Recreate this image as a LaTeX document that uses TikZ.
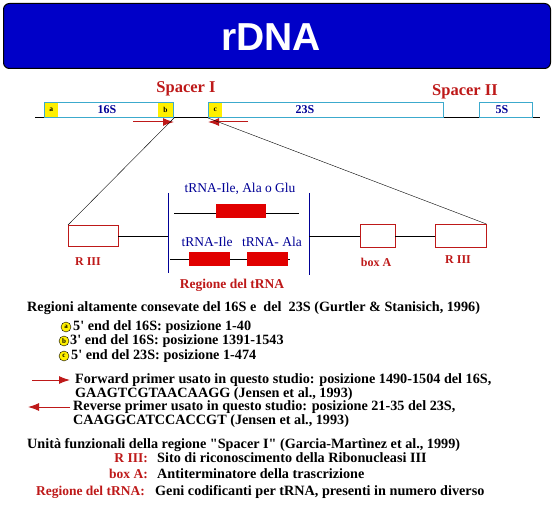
\documentclass[tikz,border=0pt]{standalone}
\usepackage{fontspec}
\setmainfont{Liberation Serif}[Ligatures=TeXOff]
\newfontfamily\titlefont{Liberation Sans}
\usetikzlibrary{arrows.meta,positioning}
\definecolor{bannerblue}{RGB}{0,0,200}
\definecolor{labelred}{RGB}{190,25,25}
\definecolor{boxred}{RGB}{225,0,0}
\definecolor{genecyan}{RGB}{60,170,205}
\definecolor{navy}{RGB}{0,0,150}
\definecolor{tagyellow}{RGB}{255,240,0}
\newcommand{\fs}[1]{\fontsize{#1}{#1}\selectfont}

\begin{document}
\begin{tikzpicture}[x=1pt, y=-1pt, >=Latex,
  gene/.style={draw=genecyan, line width=1pt, fill=white, anchor=north west, minimum height=15, inner sep=0pt},
  tag/.style={fill=tagyellow, anchor=north west, minimum width=13, minimum height=14, inner sep=0pt, font=\bfseries\fs{7.5}},
  genelbl/.style={text=navy, font=\bfseries\fs{12}},
  redlbl/.style={text=labelred, font=\bfseries\fs{13.5}},
  siteref/.style={text=labelred, font=\bfseries\fs{12}},
  site/.style={draw=labelred, fill=white, anchor=north west, inner sep=0pt},
  trna/.style={fill=boxred, anchor=north west, minimum height=14, inner sep=0pt},
  trnalbl/.style={text=navy, font=\fs{13.5}},
  body/.style={font=\bfseries\fs{14.2}, anchor=west, inner sep=0pt},
  bullet/.style={draw, fill=tagyellow, circle, inner sep=0pt, minimum size=10, font=\bfseries\fs{7}},
  primer/.style={labelred, line width=1pt, -{Latex[length=11pt,width=8pt]}}]
\useasboundingbox[fill=white] (0,0) rectangle (554,505);

% title
\node[draw=black, fill=bannerblue, rounded corners=6pt, line width=1pt, minimum width=547, minimum height=65, inner sep=0pt] (banner) at (277,36) {};
\node[text=white, font=\titlefont\bfseries\fs{39}] (title) at (271,37) {rDNA};

% operon
\coordinate (op0) at (35,117);
\coordinate (op1) at (540,117);
\draw (op0) -- (op1);
\node[gene, minimum width=129] (s16) at (44,102) {};
\node[gene, minimum width=235] (s23) at (208,102) {};
\node[gene, minimum width=53] (s5) at (479,102) {};
\node[tag] (ta) at (44.5,102.5) {a};
\node[tag, minimum width=14.5] (tb) at (158,102.5) {b};
\node[tag] (tc) at (208.5,102.5) {c};
\node[genelbl] (l16) at (107,110) {16S};
\node[genelbl] (l23) at (305,110) {23S};
\node[genelbl] (l5) at (502,110) {5S};
\node[redlbl, font=\bfseries\fs{16.5}] (sp1) at (186,89) {Spacer I};
\node[redlbl, font=\bfseries\fs{16.5}] (sp2) at (465,92) {Spacer II};

% primers
\coordinate (fw) at (133,122);
\coordinate (rv) at (248,122);
\draw[primer] (fw) -- (s16.south east |- fw);
\draw[primer] (rv) -- (s23.south west |- rv);

% spacer I
\node[site, minimum width=50, minimum height=21] (r3a) at (68,225) {};
\node[site, minimum width=35, minimum height=23] (boxa) at (360,224) {};
\node[site, minimum width=51, minimum height=23] (r3b) at (435,224) {};
\node[siteref] at (88,262) {R III};
\node[siteref] at (376,262) {box A};
\node[siteref] at (458,260) {R III};
\draw (s16.south east) -- (r3a.north west);
\draw (s23.south west) -- (r3b.north east);

\coordinate (vl1) at (168,193);
\coordinate (vl2) at (168,273);
\coordinate (vr1) at (309,193);
\coordinate (vr2) at (309,275);
\draw[navy, line width=1pt] (vl1) -- (vl2);
\draw[navy, line width=1pt] (vr1) -- (vr2);
\draw (r3a.east) -- (r3a.east -| vl1);
\draw (boxa.west -| vr1) -- (boxa.west);
\draw (boxa.east) -- (r3b.west);

\coordinate (t1a) at (174,213);
\coordinate (t1b) at (299,213);
\coordinate (t2a) at (170,259);
\coordinate (t2b) at (290,259);
\draw (t1a) -- (t1b);
\draw (t2a) -- (t2b);
\node[trna, minimum width=50] (glu) at (216,204) {};
\node[trna, minimum width=41] (ile) at (189,252) {};
\node[trna, minimum width=41] (ala) at (247,252) {};
\node[trnalbl] at (240,189) {tRNA-Ile, Ala o Glu};
\node[trnalbl] at (207,242) {tRNA-Ile};
\node[trnalbl] at (272,242) {tRNA- Ala};
\node[redlbl] (reg) at (232,285) {Regione del tRNA};

% legend
\node[body] (cons) at (27,308) {Regioni altamente consevate del 16S e\ \ del\ \ 23S (Gurtler \& Stanisich, 1996)};
\node[bullet] (ba) at (66,327) {a};
\node[bullet] (bb) at (64,341) {b};
\node[bullet] (bc) at (64,356) {c};
\node[body] at (73,327) {5' end del 16S: posizione 1-40};
\node[body] at (70,341) {3' end del 16S: posizione 1391-1543};
\node[body] at (71,356) {5' end del 23S: posizione 1-474};

\coordinate (fw0) at (32,380);
\coordinate (fw1) at (70,380);
\coordinate (rv0) at (70,407);
\coordinate (rv1) at (28,407);
\draw[primer] (fw0) -- (fw1);
\draw[primer] (rv0) -- (rv1);
\node[body] at (75,380) {Forward primer usato in questo studio: posizione 1490-1504 del 16S,};
\node[body] at (75,394) {GAAGTCGTAACAAGG (Jensen et al., 1993)};
\node[body] at (73,407) {Reverse primer usato in questo studio: posizione 21-35 del 23S,};
\node[body] at (73,421) {CAAGGCATCCACCGT (Jensen et al., 1993)};

\node[body] (unit) at (27,445) {Unità funzionali della regione "Spacer I" (Garcia-Martìnez et al., 1999)};
\node[redlbl, anchor=east, inner sep=0pt] at (148,458) {R III:};
\node[redlbl, anchor=east, inner sep=0pt] at (148,474) {box A:};
\node[redlbl, anchor=east, inner sep=0pt] at (145,492) {Regione del tRNA:};
\node[body] at (157,458) {Sito di riconoscimento della Ribonucleasi III};
\node[body] at (157,474) {Antiterminatore della trascrizione};
\node[body] at (155,492) {Geni codificanti per tRNA, presenti in numero diverso};
\end{tikzpicture}
\end{document}
